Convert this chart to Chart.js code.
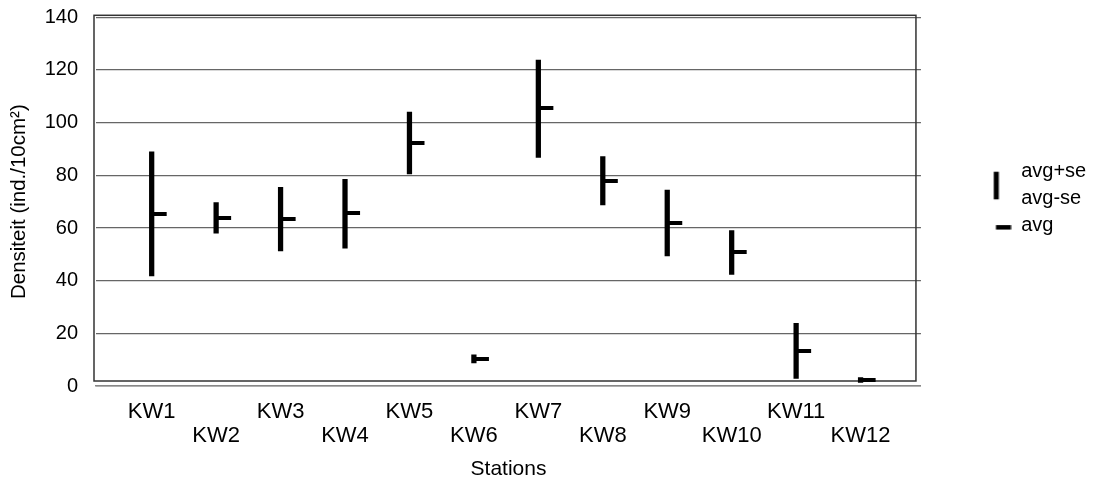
<!DOCTYPE html>
<html>
<head>
<meta charset="utf-8">
<script src="https://cdn.jsdelivr.net/npm/chart.js@4.4.1/dist/chart.umd.min.js"></script>
<style>
  html, body { margin: 0; padding: 0; background: #fff; }
  canvas { display: block; }
</style>
</head>
<body>
<canvas id="chart" width="1102" height="484"></canvas>
<script>
// Station density: average and average +/- standard error (ind./10cm²)
const stations   = ['KW1', 'KW2', 'KW3', 'KW4', 'KW5', 'KW6', 'KW7', 'KW8', 'KW9', 'KW10', 'KW11', 'KW12'];
const avgPlusSe  = [88.9, 69.6, 75.4, 78.5, 104.0, 11.8, 123.8, 87.1, 74.4, 59.0, 23.8, 3.2];
const avgMinusSe = [41.8, 58.0, 51.3, 52.3, 80.5, 8.8, 86.8, 68.8, 49.4, 42.4, 2.9, 1.4];
const avgValues  = [65.4, 63.8, 63.5, 65.6, 92.4, 10.4, 105.4, 77.9, 62.0, 50.8, 13.4, 2.3];
const yTicks     = [0, 20, 40, 60, 80, 100, 120, 140];

const FONT = "'Liberation Sans', Arial, sans-serif";

// small canvas glyphs used as point styles
function glyph(w, h, x, y, rw, rh) {
  const c = document.createElement('canvas');
  c.width = w; c.height = h;
  const g = c.getContext('2d');
  g.fillStyle = '#000';
  g.fillRect(x, y, rw, rh);
  return c;
}
// average tick: starts at the station position and runs to the right
const avgMark = glyph(34, 4, 17, 0, 15, 4);
// legend glyphs (the range bar spans the first two legend rows)
const legendRange = glyph(60, 60, 54.2, 30.7, 5, 27.6);
const legendBlank = glyph(1, 1, 0, 0, 0, 0);
const legendAvg   = glyph(84, 10, 68.4, 5.05, 15, 4.5);

// plot frame: drawn slightly inset from the value grid
const framePlugin = {
  id: 'frame',
  beforeDatasetsDraw(chart) {
    const { ctx, chartArea: a } = chart;
    ctx.save();
    ctx.strokeStyle = '#333';
    ctx.lineWidth = 1.5;
    const l = a.left - 2, t = a.top - 2, r = a.right - 5, b = a.bottom - 5;
    ctx.strokeRect(l, t, r - l, b - t);
    ctx.restore();
  }
};

// lift the legend block a little above the plot's vertical centre
const legendLift = {
  id: 'legendLift',
  afterLayout(chart) {
    const lg = chart.legend;
    if (lg) { lg.top -= 3.6; lg.bottom -= 3.6; }
  }
};

const rangeData = stations.map((s, i) => ({ x: i + 1, y: [avgMinusSe[i], avgPlusSe[i]] }));
const avgData   = stations.map((s, i) => ({ x: i + 1, y: avgValues[i] }));

new Chart(document.getElementById('chart'), {
  type: 'bar',
  data: {
    datasets: [
      {
        type: 'scatter',
        label: 'avg',
        data: avgData,
        pointStyle: avgMark,
        pointRadius: 8,
        order: 0
      },
      {
        type: 'bar',
        label: 'avg+se / avg-se',
        data: rangeData,
        backgroundColor: '#000',
        borderWidth: 0,
        barThickness: 4.6,
        grouped: false,
        order: 1
      }
    ]
  },
  options: {
    responsive: false,
    animation: false,
    layout: { padding: { left: 0, top: 17.3, right: 5.8, bottom: 0 } },
    scales: {
      x: {
        type: 'linear',
        offset: false,
        min: 0.136,
        max: 12.937,
        afterBuildTicks: s => { s.ticks = stations.map((_, i) => ({ value: i + 1 })); },
        afterFit: s => { s.height = 98; s.paddingLeft = 0; s.paddingRight = 0; },
        grid: { display: false, drawTicks: false },
        border: { display: true, color: '#888', width: 1.5 },
        ticks: {
          autoSkip: false,
          maxRotation: 0,
          minRotation: 0,
          padding: 13.7,
          color: '#000',
          font: { family: FONT, size: 22, lineHeight: 24 / 22 },
          callback: (v, i) => (i % 2 === 0 ? [stations[i], ''] : ['', stations[i]])
        },
        title: {
          display: true,
          text: 'Stations',
          color: '#000',
          font: { family: FONT, size: 21 },
          padding: { top: 0, bottom: 2.4 }
        }
      },
      y: {
        min: 0,
        max: 140,
        afterBuildTicks: s => { s.ticks = yTicks.map(v => ({ value: v })); },
        afterFit: s => { s.width = 96; s.paddingTop = 0; s.paddingBottom = 0; },
        grid: { color: '#666', lineWidth: 1.3, drawTicks: false },
        border: { display: false },
        ticks: {
          padding: 18,
          color: '#000',
          font: { family: FONT, size: 20 }
        },
        title: {
          display: true,
          text: 'Densiteit (ind./10cm²)',
          color: '#000',
          font: { family: FONT, size: 20.5 },
          padding: { top: 7.3, bottom: 0 }
        }
      }
    },
    plugins: {
      tooltip: { enabled: false },
      legend: {
        position: 'right',
        fullSize: false,
        align: 'center',
        labels: {
          usePointStyle: true,
          pointStyleWidth: 83.2,
          padding: 7,
          color: '#000',
          font: { family: FONT, size: 20 },
          generateLabels: () => [
            { text: 'avg+se', pointStyle: legendRange, fillStyle: '#000', strokeStyle: '#000', lineWidth: 0, fontColor: '#000', hidden: false },
            { text: 'avg-se', pointStyle: legendBlank, fillStyle: '#000', strokeStyle: '#000', lineWidth: 0, fontColor: '#000', hidden: false },
            { text: 'avg',    pointStyle: legendAvg,   fillStyle: '#000', strokeStyle: '#000', lineWidth: 0, fontColor: '#000', hidden: false }
          ]
        }
      }
    }
  },
  plugins: [framePlugin, legendLift]
});
</script>
</body>
</html>
